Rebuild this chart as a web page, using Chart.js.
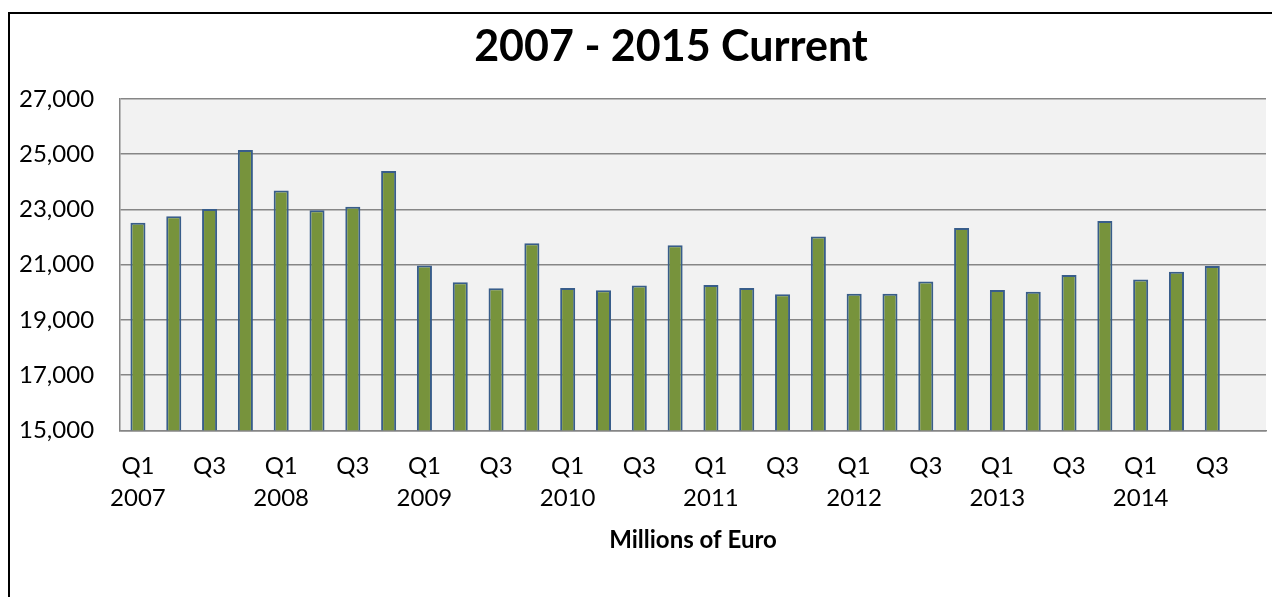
<!DOCTYPE html>
<html>
<head>
<meta charset="utf-8">
<script src="https://cdn.jsdelivr.net/npm/chart.js@4/dist/chart.umd.min.js"></script>
<style>
    html, body { margin: 0; padding: 0; overflow: hidden; background: #fff; }
    #wrap { position: absolute; left: -7px; top: 0; width: 1280px; height: 597px; }
    #frame {
        position: absolute; left: 8px; top: 12px; width: 1324px; height: 700px;
        border-left: 2px solid #000; border-top: 2px solid #000;
        pointer-events: none;
    }
</style>
</head>
<body>
<div id="wrap"><canvas id="CurrentChart"></canvas></div>
<div id="frame"></div>
<script>
// quarters 2007 Q1 .. 2014 Q4 (last quarter has no value yet)
var years = [2007, 2008, 2009, 2010, 2011, 2012, 2013, 2014];
var quarters = ['Q1', 'Q2', 'Q3', 'Q4'];
var categories = years.flatMap(y => quarters.map(q => q + ' ' + y));

// millions of euro
var current = [
    22520, 22750, 23020, 25150,   // 2007
    23690, 22970, 23100, 24390,   // 2008
    20970, 20360, 20150, 21780,   // 2009
    20160, 20070, 20250, 21700,   // 2010
    20260, 20160, 19930, 22020,   // 2011
    19950, 19950, 20390, 22330,   // 2012
    20080, 20020, 20630, 22580,   // 2013
    20460, 20740, 20950, null     // 2014
];

var yTicks = {min: 15000, max: 27000, step: 2000};

var chartTitle = '2007 - 2015 Current';

// the original chart frame is wider than the picture, the title is centred on the frame
var frame = {left: 9, width: 1324};

var plotBackground = {
    id: 'plotBackground',
    beforeDraw: chart => {
        let a = chart.chartArea;
        let ctx = chart.ctx;
        ctx.save();
        ctx.fillStyle = '#f2f2f2';
        ctx.fillRect(a.left, a.top, a.right - a.left, a.bottom - a.top);
        ctx.restore();
    }
};

var frameTitle = {
    id: 'frameTitle',
    afterDraw: chart => {
        let ctx = chart.ctx;
        let shift = chart.canvas.getBoundingClientRect().left;
        ctx.save();
        ctx.fillStyle = '#000';
        ctx.font = 'bold 43px Lato';
        ctx.textAlign = 'center';
        ctx.textBaseline = 'middle';
        ctx.fillText(chartTitle, frame.left + frame.width / 2 - shift, 47);
        ctx.restore();
    }
};

var options = {
    responsive: true,
    maintainAspectRatio: false,
    animation: false,
    layout: {
        padding: {left: 0, right: 7, top: 99, bottom: 42}
    },
    plugins: {
        legend: {display: false},
        tooltip: {enabled: false},
        title: {display: false}
    },
    scales: {
        x: {
            offset: true,
            grid: {display: false},
            border: {display: true, color: '#868686', width: 1.5},
            ticks: {
                autoSkip: false,
                maxRotation: 0,
                color: '#000',
                padding: 12,
                font: {family: 'Lato', size: 24, lineHeight: 1.33},
                callback: function (value) {
                    let parts = this.getLabelForValue(value).split(' ');
                    if (parts[0] === 'Q1') return [parts[0], parts[1]];
                    if (parts[0] === 'Q3') return parts[0];
                    return '';
                }
            },
            title: {
                display: true,
                text: 'Millions of Euro',
                color: '#000',
                font: {family: 'Lato', size: 24, weight: 'bold'},
                padding: {top: 0, bottom: 0}
            }
        },
        y: {
            min: yTicks.min,
            max: yTicks.max,
            grid: {color: '#868686', lineWidth: 1.5, drawTicks: false},
            border: {display: true, color: '#868686', width: 1.5},
            ticks: {
                stepSize: yTicks.step,
                color: '#000',
                padding: 26,
                font: {family: 'Lato', size: 24},
                callback: v => v.toLocaleString('en-US')
            }
        }
    }
};

new Chart(document.getElementById('CurrentChart'), {
    type: 'bar',
    options: options,
    plugins: [plotBackground, frameTitle],
    data: {
        labels: categories,
        datasets: [{
            label: 'Current',
            data: current,
            backgroundColor: '#77933c',
            borderColor: '#385d8a',
            borderWidth: 2,
            categoryPercentage: 1,
            barPercentage: 0.42
        }]
    }
});
</script>
</body>
</html>
